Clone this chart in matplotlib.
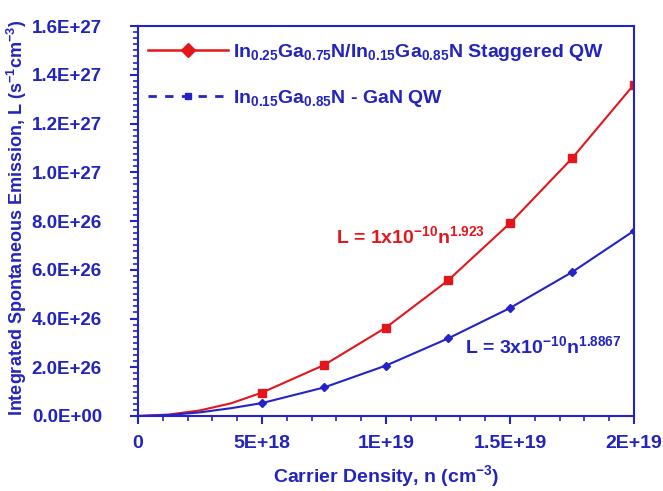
import matplotlib
matplotlib.use("Agg")
import matplotlib.pyplot as plt
from matplotlib.lines import Line2D
from matplotlib.ticker import MultipleLocator, FuncFormatter

plt.rcParams['font.family'] = ['Liberation Sans', 'DejaVu Sans']
plt.rcParams['font.weight'] = 'bold'
plt.rcParams['mathtext.fontset'] = 'custom'
plt.rcParams['mathtext.rm'] = 'Liberation Sans:bold'
plt.rcParams['mathtext.it'] = 'Liberation Sans:bold'
plt.rcParams['mathtext.bf'] = 'Liberation Sans:bold'

# Data (carrier density in cm^-3, emission in s^-1 cm^-3)
n_vals = [0, 1.25e18, 2.5e18, 3.75e18, 5e18, 7.5e18, 1.0e19, 1.25e19, 1.5e19, 1.75e19, 2.0e19]
L_staggered = [0, 0.6e25, 2.3e25, 5.2e25, 0.96e26, 2.09e26, 3.63e26, 5.56e26, 7.91e26, 1.057e27, 1.36e27]
L_conventional = [0, 0.4e25, 1.5e25, 3.2e25, 0.53e26, 1.17e26, 2.07e26, 3.18e26, 4.43e26, 5.9e26, 7.6e26]
marker_idx = [4, 5, 6, 7, 8, 9, 10]

legend_labels = [r"In$_{0.25}$Ga$_{0.75}$N/In$_{0.15}$Ga$_{0.85}$N Staggered QW",
                 r"In$_{0.15}$Ga$_{0.85}$N - GaN QW"]
fit_labels = [r"L = 1x10$^{-10}$n$^{1.923}$", r"L = 3x10$^{-10}$n$^{1.8867}$"]
xtick_labels = ['0', '5E+18', '1E+19', '1.5E+19', '2E+19']
xlabel = r"Carrier Density, n (cm$^{-3}$)"
ylabel = r"Integrated Spontaneous Emission, L (s$^{-1}$cm$^{-3}$)"

RED = '#e3161c'
BLUE = '#2323c8'
TXT = '#2323c0'
FS = 14

fig = plt.figure(figsize=(6.63, 4.91), dpi=100)
ax = fig.add_axes([138/663, 1-416/491, (634-138)/663, (416-26)/491])

ax.plot(n_vals, L_staggered, color=RED, lw=1.5, marker='s', ms=5.5,
        markevery=marker_idx, mfc=RED, mec=RED)
ax.plot(n_vals, L_conventional, color=BLUE, lw=1.5, marker='D', ms=4,
        markevery=marker_idx, mfc=BLUE, mec=BLUE)

ax.set_xlim(0, 2e19)
ax.set_ylim(0, 1.6e27)
ax.xaxis.set_major_locator(MultipleLocator(5e18))
ax.xaxis.set_minor_locator(MultipleLocator(1e18))
ax.yaxis.set_major_locator(MultipleLocator(2e26))
ax.yaxis.set_minor_locator(MultipleLocator(2.5e25))

def xfmt(v, p):
    i = int(round(v / 5e18))
    return xtick_labels[i] if 0 <= i < len(xtick_labels) else ''

def yfmt(v, p):
    if v == 0:
        return '0.0E+00'
    return '%.1E' % v

ax.xaxis.set_major_formatter(FuncFormatter(xfmt))
ax.yaxis.set_major_formatter(FuncFormatter(yfmt))

for sp in ax.spines.values():
    sp.set_color(BLUE)
    sp.set_linewidth(1.5)
ax.tick_params(which='major', direction='out', length=6, width=1.5, color=BLUE,
               labelcolor=TXT, labelsize=FS)
ax.tick_params(axis='y', which='major', pad=20, labelsize=13.5)
ax.tick_params(axis='x', which='major', pad=8)
ax.tick_params(which='minor', direction='out', length=3.5, width=1.2, color=BLUE)
for lab in ax.get_xticklabels() + ax.get_yticklabels():
    lab.set_fontweight('bold')

ax.set_xlabel(xlabel, color=TXT, fontsize=FS, fontweight='bold', labelpad=8)
fig.text(17/663, 1 - 218/491, ylabel, rotation=90, ha='center', va='center',
         color=TXT, fontsize=13, fontweight='bold')

handles = [Line2D([], [], color=RED, lw=1.8, marker='D', ms=7.5, mfc=RED, mec=RED),
           Line2D([], [], color=BLUE, lw=2, ls='--', dashes=(3.0, 3.0), marker='s', ms=5,
                  mfc=BLUE, mec=BLUE)]
leg = ax.legend(handles, legend_labels, loc='upper left', frameon=False,
                bbox_to_anchor=(0.02, 0.96), borderaxespad=0, borderpad=0,
                handlelength=4.1, handletextpad=0.25, labelspacing=1.3,
                prop={'size': FS, 'weight': 'bold'})
for t in leg.get_texts():
    t.set_color(TXT)

ax.text(8.0e18, 7.1e26, fit_labels[0], color=RED, fontsize=FS,
        fontweight='bold', va='baseline', ha='left')
ax.text(1.32e19, 2.6e26, fit_labels[1], color=TXT, fontsize=FS,
        fontweight='bold', va='baseline', ha='left')

fig.savefig('out.png', dpi=100)
